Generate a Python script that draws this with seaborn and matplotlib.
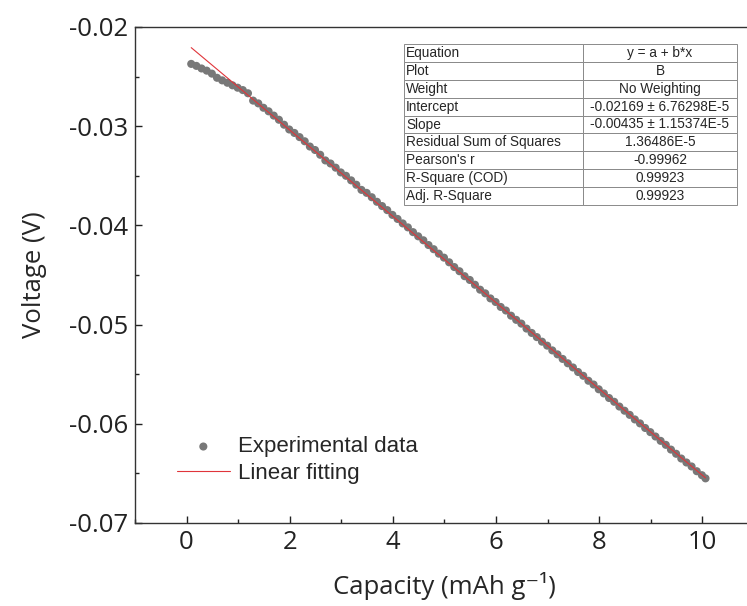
import numpy as np
import pandas as pd
import seaborn as sns
import matplotlib.pyplot as plt
from matplotlib.ticker import MultipleLocator

# data
capacity = [0.09, 0.19, 0.29, 0.39, 0.49, 0.59, 0.69, 0.79, 0.89, 0.99,
            1.09, 1.19, 1.29, 1.39, 1.49, 1.59, 1.69, 1.79, 1.89, 1.99,
            2.09, 2.19, 2.29, 2.39, 2.49, 2.59, 2.69, 2.79, 2.89, 2.99,
            3.09, 3.19, 3.29, 3.39, 3.49, 3.59, 3.69, 3.79, 3.89, 3.99,
            4.09, 4.19, 4.29, 4.39, 4.49, 4.59, 4.69, 4.79, 4.89, 4.99,
            5.09, 5.19, 5.29, 5.39, 5.49, 5.59, 5.69, 5.79, 5.89, 5.99,
            6.09, 6.19, 6.29, 6.39, 6.49, 6.59, 6.69, 6.79, 6.89, 6.99,
            7.09, 7.19, 7.29, 7.39, 7.49, 7.59, 7.69, 7.79, 7.89, 7.99,
            8.09, 8.19, 8.29, 8.39, 8.49, 8.59, 8.69, 8.79, 8.89, 8.99,
            9.09, 9.19, 9.29, 9.39, 9.49, 9.59, 9.69, 9.79, 9.89, 9.99,
            10.06]
voltage = [-0.02372, -0.02392, -0.02418, -0.02440, -0.02470, -0.02512, -0.02538, -0.02562, -0.02588, -0.02612,
           -0.02636, -0.02668, -0.02742, -0.02770, -0.02814, -0.02850, -0.02893, -0.02935, -0.02985, -0.03033,
           -0.03068, -0.03110, -0.03152, -0.03205, -0.03240, -0.03288, -0.03345, -0.03376, -0.03418, -0.03466,
           -0.03500, -0.03546, -0.03590, -0.03642, -0.03672, -0.03716, -0.03762, -0.03805, -0.03846, -0.03894,
           -0.03935, -0.03980, -0.04020, -0.04068, -0.04110, -0.04150, -0.04198, -0.04240, -0.04285, -0.04325,
           -0.04372, -0.04420, -0.04462, -0.04512, -0.04550, -0.04598, -0.04648, -0.04685, -0.04736, -0.04772,
           -0.04822, -0.04858, -0.04910, -0.04952, -0.04990, -0.05040, -0.05084, -0.05126, -0.05172, -0.05212,
           -0.05260, -0.05300, -0.05346, -0.05390, -0.05432, -0.05478, -0.05516, -0.05566, -0.05604, -0.05652,
           -0.05694, -0.05740, -0.05778, -0.05826, -0.05868, -0.05910, -0.05956, -0.05996, -0.06042, -0.06084,
           -0.06128, -0.06172, -0.06212, -0.06260, -0.06302, -0.06350, -0.06390, -0.06430, -0.06478, -0.06518,
           -0.06550]

# fit parameters reported in the table
intercept = -0.02169
slope = -0.00435
table_labels = ["Equation", "Plot", "Weight", "Intercept", "Slope",
                "Residual Sum of Squares", "Pearson's r", "R-Square (COD)", "Adj. R-Square"]
table_values = ["y = a + b*x", "B", "No Weighting", "-0.02169 \u00b1 6.76298E-5",
                "-0.00435 \u00b1 1.15374E-5", "1.36486E-5", "-0.99962", "0.99923", "0.99923"]

sns.set_style("ticks")
plt.rcParams['font.family'] = ['Open Sans', 'DejaVu Sans']
plt.rcParams['axes.unicode_minus'] = False

df = pd.DataFrame({'x': capacity, 'y': voltage})
fit_x = np.array([capacity[0], capacity[-1]])
fit = pd.DataFrame({'x': fit_x, 'y': intercept + slope * fit_x})

fig = plt.figure(figsize=(7.47, 6.06), dpi=100)
ax = fig.add_axes([135 / 747, 83 / 606, 619 / 747, 496 / 606])

sns.scatterplot(data=df, x='x', y='y', ax=ax, color='#787878', s=34,
                edgecolor='none', label='Experimental data', zorder=2)
sns.lineplot(data=fit, x='x', y='y', ax=ax, color='#e0353a', linewidth=0.8,
             label='Linear fitting', zorder=3)

ax.set_xlim(-1, 11)
ax.set_ylim(-0.07, -0.02)
ax.xaxis.set_major_locator(MultipleLocator(2))
ax.xaxis.set_minor_locator(MultipleLocator(1))
ax.yaxis.set_major_locator(MultipleLocator(0.01))
ax.yaxis.set_minor_locator(MultipleLocator(0.005))
ax.tick_params(which='both', direction='in', top=False, right=False,
               labelsize=18.5, colors='#222222', width=1)
ax.tick_params(which='major', length=5, pad=5)
ax.tick_params(which='minor', length=3)
for sp in ax.spines.values():
    sp.set_color('#333333')
    sp.set_linewidth(1)

ax.set_xlabel('Capacity (mAh g\u207b\u00b9)', fontsize=18.5, labelpad=12)
ax.set_ylabel('Voltage (V)', fontsize=18.5, labelpad=16)

leg = ax.legend(loc='upper left', bbox_to_anchor=(0.035, 0.215), frameon=False,
                prop={'family': 'Liberation Sans', 'size': 16},
                handlelength=2.4, handletextpad=0.35, labelspacing=0.25, markerscale=1.0)

tbl = ax.table(cellText=[[a, b] for a, b in zip(table_labels, table_values)],
               cellLoc='center', colWidths=[0.5375, 0.4625],
               bbox=[(404 - 135) / 619, (523 - 205) / 496, 333 / 619, 161 / 496])
tbl.auto_set_font_size(False)
tbl.set_fontsize(9.8)
for (r, c), cell in tbl.get_celld().items():
    cell.set_edgecolor('#8a8a8a')
    cell.set_linewidth(0.7)
    cell.get_text().set_fontfamily('Liberation Sans')
    if c == 0:
        cell.get_text().set_horizontalalignment('left')
        cell.PAD = 0.012

fig.savefig('out.png', dpi=100)
